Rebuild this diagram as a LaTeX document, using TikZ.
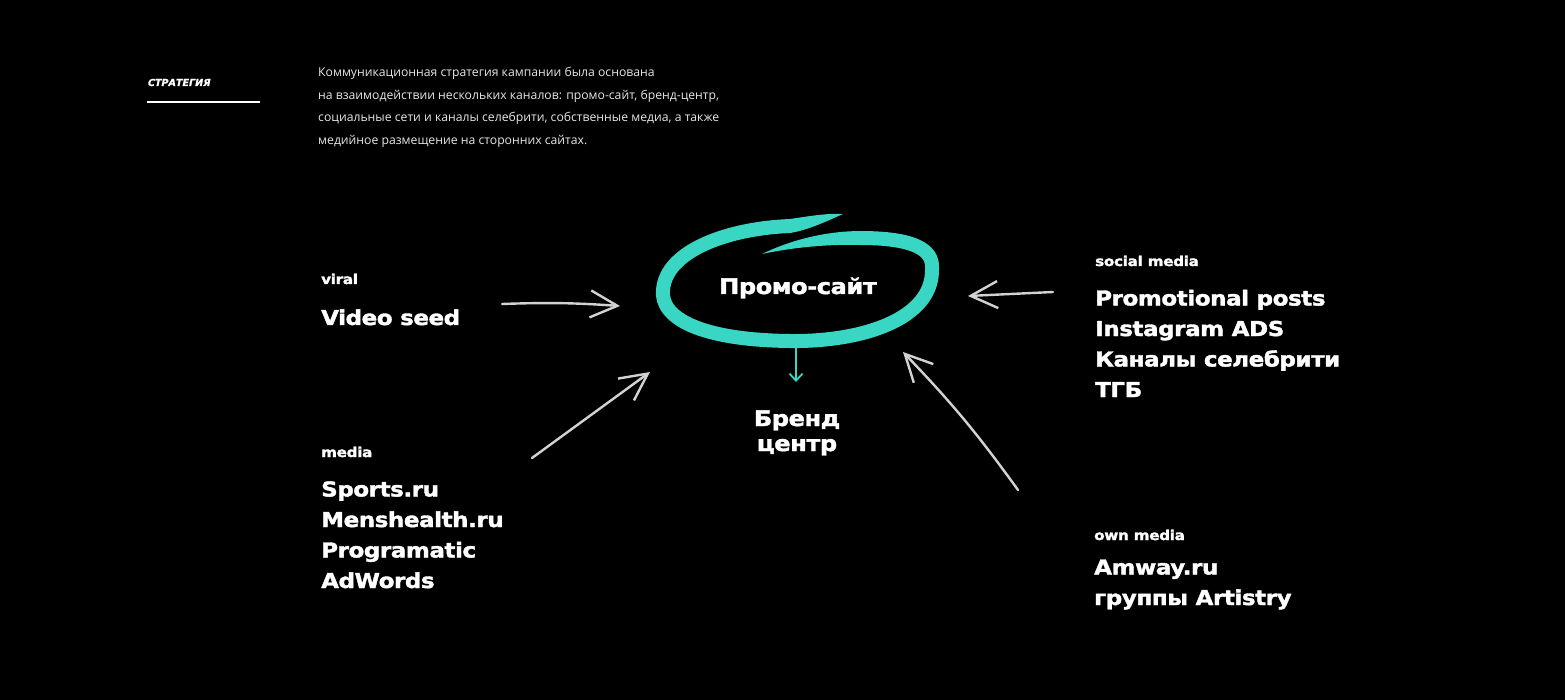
\documentclass[tikz,border=0pt]{standalone}
\usepackage{fontspec}
\usepackage{xcolor}
\usetikzlibrary{arrows.meta, positioning}
\setmainfont{Open Sans}
\newfontfamily\widebold[FakeStretch=1.12, FakeBold=1.8, LetterSpace=-2]{DejaVu Sans Bold}
\newfontfamily\slantbold[FakeSlant=0.2, FakeBold=1]{DejaVu Sans Bold}
\definecolor{ringteal}{RGB}{58,214,196}
\definecolor{chalk}{RGB}{210,210,210}
\definecolor{bodygrey}{RGB}{230,230,230}
\tikzset{
    diagram/.style={x=1pt, y=-1pt},
    channel tag/.style={anchor=base west, inner sep=0pt, text=white,
        font=\widebold\fontsize{13.5}{13.5}\selectfont},
    channel list/.style={anchor=base west, inner sep=0pt, text=white, align=left,
        font=\widebold\fontsize{20.5}{30.5}\selectfont},
    hub label/.style={anchor=base, inner sep=0pt, text=white, align=center,
        font=\widebold\fontsize{21.5}{25}\selectfont},
    chalk arrow/.style={-{Straight Barb[length=27pt, width=27pt]}, chalk,
        line width=2.4pt, line cap=round},
    ring stroke/.style={ringteal, line width=14pt},
    ring tail/.style={fill=ringteal},
    ring arrow/.style={-{Straight Barb[length=7pt, width=13pt]}, ringteal, line width=1.8pt},
}
\begin{document}
\begin{tikzpicture}[diagram]

    % Background
    \fill[black] (0,0) rectangle (1565,700);
    \useasboundingbox (0,0) rectangle (1565,700);

    % Header (multi-line nodes sit on their last baseline)
    \node[anchor=base west, inner sep=0pt, text=white,
        font=\slantbold\fontsize{9.6}{10}\selectfont] (title) at (147,86) {СТРАТЕГИЯ};
    \coordinate (rule start) at (147,102);
    \coordinate (rule end) at (260,102);
    \draw[white, line width=1.8pt] (rule start) -- (rule end);
    \node[anchor=base west, inner sep=0pt, text=bodygrey, align=left,
        font=\fontsize{12.2}{22.5}\selectfont] (intro) at (318,144.5)
        {Коммуникационная стратегия кампании была основана\\
         на взаимодействии нескольких каналов: промо-сайт, бренд-центр,\\
         социальные сети и каналы селебрити, собственные медиа, а также\\
         медийное размещение на сторонних сайтах.};

    % Ring
    \draw[ring stroke] (860,238) .. controls (915,238) and (933,250) .. (932,268)
        .. controls (934,320) and (860,342) .. (790,341)
        .. controls (700,340) and (660,318) .. (663,290)
        .. controls (666,250) and (730,228) .. (791,226);
    \fill[ring tail] (762,254) .. controls (795,238) and (830,231) .. (862,231)
        -- (862,245) .. controls (830,244) and (795,247) .. (762,254) -- cycle;
    \fill[ring tail] (790,219) .. controls (810,216) and (828,213) .. (843,214)
        .. controls (825,222) and (808,230) .. (790,233) -- cycle;

    % Nodes
    \node[hub label] (promo) at (798,294) {Промо-сайт};
    \node[hub label] (brand) at (797,451) {Бренд\\центр};

    \node[channel tag] (viral) at (321,284) {viral};
    \node[channel list] (viral list) at (321,325) {Video seed};

    \node[channel tag] (media) at (321,457) {media};
    \node[channel list] (media list) at (321,588) {Sports.ru\\Menshealth.ru\\Programatic\\AdWords};

    \node[channel tag] (social) at (1095,266) {social media};
    \node[channel list] (social list) at (1095,397) {Promotional posts\\Instagram ADS\\Каналы селебрити\\ТГБ};

    \node[channel tag] (own) at (1094,540) {own media};
    \node[channel list] (own list) at (1094,605) {Amway.ru\\группы Artistry};

    % Arrows
    \coordinate (viral tail) at (502,304);
    \coordinate (viral tip) at (620,306);
    \coordinate (media tail) at (532,458);
    \coordinate (media tip) at (650,372);
    \coordinate (social tail) at (1053,292);
    \coordinate (social tip) at (968,296);
    \coordinate (own tail) at (1018,490);
    \coordinate (own tip) at (903,352);
    \coordinate (ring bottom) at (796,343);
    \coordinate (brand top) at (796,382);

    \draw[chalk arrow] (viral tail) to[bend left=3] (viral tip);
    \draw[chalk arrow] (media tail) -- (media tip);
    \draw[chalk arrow] (social tail) -- (social tip);
    \draw[chalk arrow] (own tail) to[bend right=4] (own tip);
    \draw[ring arrow] (ring bottom) -- (brand top);

\end{tikzpicture}
\end{document}
